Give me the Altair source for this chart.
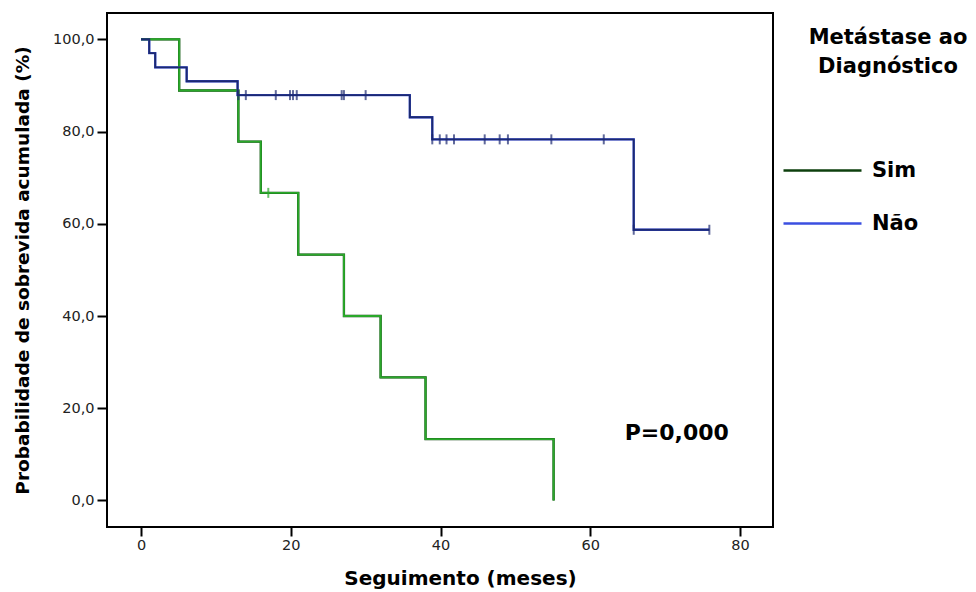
import altair as alt
import pandas as pd

# ---- data ----
groups = ["Sim", "Não"]

sim_time = [0, 5.1, 13.0, 16.0, 21.0, 27.1, 32.0, 38.0, 55.1]
sim_surv = [100.0, 88.9, 77.8, 66.7, 53.3, 40.0, 26.7, 13.3, 0.0]

nao_time = [0, 1.1, 1.9, 6.1, 12.9, 35.9, 38.9, 65.8, 75.9]
nao_surv = [100.0, 97.0, 93.9, 90.9, 87.9, 83.1, 78.3, 58.7, 58.7]

sim_cens_time = [17.0]
sim_cens_surv = [66.7]

nao_cens_time = [13.0, 14.0, 18.0, 19.9, 20.3, 20.8, 26.8, 27.1, 30.0,
                 38.9, 39.9, 40.8, 41.8, 45.9, 47.9, 49.0, 54.8, 61.8,
                 65.8, 75.9]
nao_cens_surv = [87.9, 87.9, 87.9, 87.9, 87.9, 87.9, 87.9, 87.9, 87.9,
                 78.3, 78.3, 78.3, 78.3, 78.3, 78.3, 78.3, 78.3, 78.3,
                 58.7, 58.7]

x_ticks = [0, 20, 40, 60, 80]
y_ticks = [0, 20, 40, 60, 80, 100]

p_label = "P=0,000"
p_time = 64.6
p_surv = 13.1

line_colors = ["#2aa82a", "#1c2a70"]
legend_colors = ["#0d3f0d", "#3b4fe0"]

FONT = "DejaVu Sans"

steps = pd.DataFrame(
    [{"grupo": "Sim", "t": t, "s": s} for t, s in zip(sim_time, sim_surv)]
    + [{"grupo": "Não", "t": t, "s": s} for t, s in zip(nao_time, nao_surv)]
)
cens = pd.DataFrame(
    [{"grupo": "Sim", "t": t, "s": s} for t, s in zip(sim_cens_time, sim_cens_surv)]
    + [{"grupo": "Não", "t": t, "s": s} for t, s in zip(nao_cens_time, nao_cens_surv)]
)
ptext = pd.DataFrame([{"t": p_time, "s": p_surv, "label": p_label}])

x_scale = alt.Scale(domain=[-4.54, 84.4], nice=False, zero=False)
y_scale = alt.Scale(domain=[-5.75, 105.7], nice=False, zero=False)

x_enc = alt.X(
    "t:Q", scale=x_scale,
    axis=alt.Axis(
        values=x_ticks, format="d", tickSize=9, tickWidth=2, tickColor="black",
        domain=False, grid=False, labelPadding=2,
        labelFont=FONT, labelFontSize=14.5, labelColor="#222222",
        title="Seguimento (meses)", titleFont=FONT, titleFontSize=20,
        titleFontWeight="bold", titleColor="black",
        titleX=353, titleY=51, titleBaseline="middle",
    ),
)
y_enc = alt.Y(
    "s:Q", scale=y_scale,
    axis=alt.Axis(
        values=y_ticks,
        labelExpr="replace(format(datum.value, '.1f'), '.', ',')",
        tickSize=10, tickWidth=2, tickColor="black",
        domain=False, grid=False, labelPadding=3,
        labelFont=FONT, labelFontSize=14.5, labelColor="#222222",
        title="Probabilidade de sobrevida acumulada (%)", titleFont=FONT,
        titleFontSize=18.5, titleFontWeight="bold", titleColor="black",
        titleX=-85, titleY=257, titleBaseline="middle",
    ),
)

legend_layer = alt.Chart(steps).mark_line(
    interpolate="step-after", strokeWidth=2.3
).encode(
    x=x_enc, y=y_enc,
    color=alt.Color(
        "grupo:N",
        scale=alt.Scale(domain=groups, range=legend_colors),
        legend=alt.Legend(
            title=None, orient="none", legendX=675, legendY=117,
            symbolType="stroke", symbolSize=6084, symbolStrokeWidth=2.5,
            labelFont=FONT, labelFontSize=21, labelFontWeight="bold",
            labelColor="black", labelOffset=9, rowPadding=2,
        ),
    ),
)

line_layer = alt.Chart(steps).mark_line(
    interpolate="step-after", strokeWidth=1.9
).encode(
    x="t:Q", y="s:Q",
    color=alt.Color("grupo:N", scale=alt.Scale(domain=groups, range=line_colors),
                    legend=None),
)

cens_layer = alt.Chart(cens).mark_tick(
    orient="vertical", size=10, thickness=2
).encode(
    x="t:Q", y="s:Q",
    color=alt.Color("grupo:N", scale=alt.Scale(domain=groups, range=line_colors),
                    legend=None),
)

p_layer = alt.Chart(ptext).mark_text(
    align="left", baseline="alphabetic", font=FONT, fontSize=22,
    fontWeight="bold", color="black",
).encode(x="t:Q", y="s:Q", text="label:N")

chart = (
    alt.layer(legend_layer, line_layer, cens_layer, p_layer)
    .resolve_scale(color="independent")
    .properties(
        width=666, height=514,
        background="white",
        autosize=alt.AutoSizeParams(type="none"),
        padding={"left": 107, "top": 13, "right": 203, "bottom": 65},
        title=alt.TitleParams(
            text=["Metástase ao", "Diagnóstico"], anchor="end", align="center",
            dx=115, dy=64, baseline="top", orient="top", frame="group",
            font=FONT, fontSize=21, fontWeight="bold", lineHeight=29,
            color="black", offset=0,
        ),
    )
    .configure_view(stroke="black", strokeWidth=2)
)

chart.save("out.html", embed_options={"renderer": "svg", "actions": False})
